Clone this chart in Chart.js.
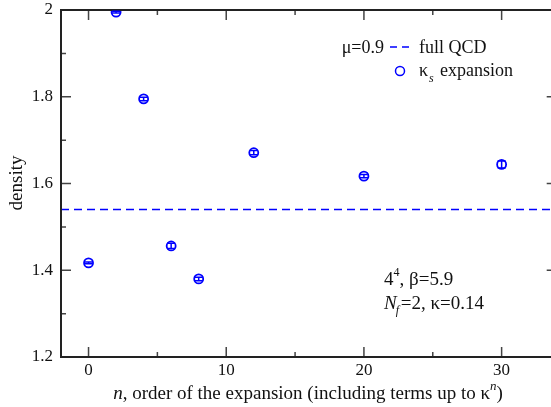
<!DOCTYPE html>
<html>
<head>
<meta charset="utf-8">
<script src="https://cdn.jsdelivr.net/npm/chart.js@4.4.0/dist/chart.umd.min.js"></script>
<style>
  html, body { margin: 0; padding: 0; background: #fff; overflow: hidden; }
  #wrap { width: 551px; height: 407px; overflow: hidden; }
</style>
</head>
<body>
<div id="wrap"><canvas id="densityChart" width="563" height="407"></canvas></div>
<script>
// data
const nOrder = [0, 2, 4, 6, 8, 12, 20, 30];
const density = [1.417, 1.995, 1.795, 1.456, 1.380, 1.671, 1.617, 1.644];
const densityErr = [0.002, 0.002, 0.004, 0.006, 0.004, 0.005, 0.004, 0.008];
const fullQCD = 1.54;
const xRange = [-2, 34];
const xTicks = [0, 10, 20, 30];
const xMinor = [5, 15, 25];
const yTicks = [1.2, 1.4, 1.6, 1.8, 2.0];
const yTickLabels = ['1.2', '1.4', '1.6', '1.8', '2'];
const yMinor = [1.3, 1.5, 1.7, 1.9];

const SERIF = '"Liberation Serif", "DejaVu Serif", serif';
const BLUE = '#0000ff';

const framePlugin = {
    id: 'frame',
    afterDraw(chart) {
        const ctx = chart.ctx;
        const a = chart.chartArea;
        const xs = chart.scales.x, ys = chart.scales.y;
        ctx.save();
        // ticks (inward, all four sides)
        ctx.strokeStyle = '#444';
        ctx.lineWidth = 1.5;
        ctx.beginPath();
        xTicks.concat(xMinor).forEach((v, i) => {
            const len = i < xTicks.length ? 10 : 5;
            const px = xs.getPixelForValue(v);
            ctx.moveTo(px, a.bottom); ctx.lineTo(px, a.bottom - len);
            ctx.moveTo(px, a.top); ctx.lineTo(px, a.top + len);
        });
        yTicks.concat(yMinor).forEach((v, i) => {
            const len = i < yTicks.length ? 10 : 5;
            const py = ys.getPixelForValue(v);
            ctx.moveTo(a.left, py); ctx.lineTo(a.left + len, py);
            ctx.moveTo(a.right, py); ctx.lineTo(a.right - len, py);
        });
        ctx.stroke();
        // frame
        ctx.strokeStyle = '#222';
        ctx.lineWidth = 2;
        ctx.strokeRect(a.left, a.top, a.right - a.left, a.bottom - a.top);

        // error bars
        ctx.strokeStyle = BLUE;
        ctx.lineWidth = 1.5;
        ctx.beginPath();
        nOrder.forEach((n, i) => {
            const px = xs.getPixelForValue(n);
            const y1 = ys.getPixelForValue(density[i] + densityErr[i]);
            const y2 = ys.getPixelForValue(density[i] - densityErr[i]);
            ctx.moveTo(px, y1); ctx.lineTo(px, y2);
            ctx.moveTo(px - 4, y1); ctx.lineTo(px + 4, y1);
            ctx.moveTo(px - 4, y2); ctx.lineTo(px + 4, y2);
        });
        ctx.stroke();

        // axis titles
        ctx.fillStyle = '#111';
        ctx.textBaseline = 'alphabetic';
        const fN = 'italic 19px ' + SERIF, fR = '19px ' + SERIF, fS = 'italic 13px ' + SERIF;
        const parts = [
            [fN, 'n', 0], [fR, ', order of the expansion (including terms up to \u03ba', 0],
            [fS, 'n', -9], [fR, ')', 0]
        ];
        let total = 0;
        parts.forEach(p => { ctx.font = p[0]; total += ctx.measureText(p[1]).width; });
        let x = 308 - total / 2;
        parts.forEach(p => { ctx.font = p[0]; ctx.fillText(p[1], x, 399 + p[2]); x += ctx.measureText(p[1]).width; });

        ctx.save();
        ctx.translate(22, 183);
        ctx.rotate(-Math.PI / 2);
        ctx.font = fR;
        ctx.textAlign = 'center';
        ctx.fillText('density', 0, 0);
        ctx.restore();

        // legend
        const fL = '18px ' + SERIF;
        ctx.font = fL;
        ctx.textAlign = 'right';
        ctx.fillText('\u03bc=0.9', 384, 53);
        ctx.textAlign = 'left';
        ctx.fillText('full QCD', 419, 53);
        ctx.strokeStyle = BLUE;
        ctx.lineWidth = 1.5;
        ctx.setLineDash([7, 5]);
        ctx.beginPath(); ctx.moveTo(390, 47); ctx.lineTo(410, 47); ctx.stroke();
        ctx.setLineDash([]);
        ctx.beginPath(); ctx.arc(400, 71, 4.5, 0, Math.PI * 2); ctx.stroke();
        ctx.fillText('\u03ba', 419, 76);
        ctx.font = 'italic 12px ' + SERIF;
        ctx.fillText('s', 429, 82);
        ctx.font = fL;
        ctx.fillText('expansion', 440, 76);

        // annotation
        ctx.font = fR;
        ctx.fillText('4', 384, 285);
        let w = ctx.measureText('4').width;
        ctx.font = '12px ' + SERIF;
        ctx.fillText('4', 384 + w, 276);
        w += ctx.measureText('4').width;
        ctx.font = fR;
        ctx.fillText(', \u03b2=5.9', 384 + w, 285);
        ctx.font = fN;
        ctx.fillText('N', 384, 309);
        const wN = ctx.measureText('N').width;
        ctx.font = 'italic 12px ' + SERIF;
        ctx.fillText('f', 384 + wN - 1, 314);
        ctx.font = fR;
        ctx.fillText('=2, \u03ba=0.14', 384 + wN + 4, 309);
        ctx.restore();
    }
};

const ctx = document.getElementById('densityChart').getContext('2d');
const chart = new Chart(ctx, {
    type: 'scatter',
    data: {
        datasets: [{
            label: 'full QCD',
            type: 'line',
            data: xRange.map(v => ({ x: v, y: fullQCD })),
            borderColor: BLUE,
            borderWidth: 1.5,
            borderDash: [8, 5],
            pointRadius: 0,
            fill: false
        }, {
            label: 'kappa_s expansion',
            data: nOrder.map((n, i) => ({ x: n, y: density[i] })),
            borderColor: BLUE,
            backgroundColor: 'rgba(0,0,0,0)',
            borderWidth: 1.8,
            pointRadius: 4.5,
            pointHoverRadius: 4.5
        }]
    },
    options: {
        responsive: false,
        animation: false,
        layout: { padding: { top: 10, right: 1, left: 0, bottom: 0 } },
        plugins: { legend: { display: false }, tooltip: { enabled: false } },
        scales: {
            x: {
                type: 'linear',
                min: xRange[0], max: xRange[1],
                grid: { display: false, drawTicks: false },
                border: { display: false },
                afterBuildTicks: s => { s.ticks = xTicks.map(v => ({ value: v })); },
                afterFit: s => { s.height = 50; s.paddingLeft = 0; s.paddingRight = 0; },
                ticks: { font: { family: SERIF, size: 17 }, color: '#111', padding: 3, maxRotation: 0 }
            },
            y: {
                type: 'linear',
                min: 1.2, max: 2.0,
                grid: { display: false, drawTicks: false },
                border: { display: false },
                afterBuildTicks: s => { s.ticks = yTicks.map(v => ({ value: v })); },
                afterFit: s => { s.width = 61; s.paddingTop = 0; s.paddingBottom = 0; },
                ticks: {
                    font: { family: SERIF, size: 17 }, color: '#111', padding: 8,
                    callback: (v) => yTickLabels[yTicks.findIndex(t => Math.abs(t - v) < 1e-9)]
                }
            }
        }
    },
    plugins: [framePlugin]
});
</script>
</body>
</html>
